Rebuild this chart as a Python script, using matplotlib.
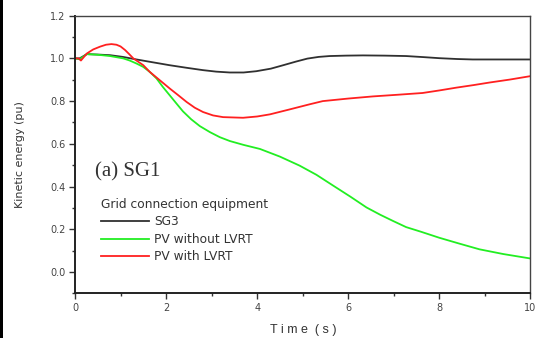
import matplotlib
matplotlib.use("Agg")
import matplotlib.pyplot as plt
from matplotlib.patches import Rectangle
from matplotlib.ticker import MultipleLocator

# Time axis (s) and kinetic energy (pu) of SG1 for each grid connection case
t_sg3 = [0, 0.1, 0.26, 0.5, 0.77, 1.05, 1.35, 1.7, 2.08, 2.45, 2.81, 3.1, 3.4, 3.7,
         3.98, 4.3, 4.57, 4.85, 5.1, 5.35, 5.59, 5.95, 6.32, 6.8, 7.27, 7.65, 8.0,
         8.4, 8.73, 9.3, 10.0]
ke_sg3 = [1.0, 1.0, 1.02, 1.018, 1.015, 1.007, 0.995, 0.982, 0.968, 0.956, 0.945,
          0.938, 0.934, 0.934, 0.94, 0.952, 0.968, 0.985, 0.999, 1.007, 1.011, 1.013,
          1.014, 1.013, 1.011, 1.006, 1.001, 0.997, 0.995, 0.995, 0.995]

t_pv_no = [0, 0.1, 0.26, 0.5, 0.77, 1.06, 1.2, 1.35, 1.5, 1.64, 1.79, 1.93, 2.08,
           2.23, 2.37, 2.55, 2.74, 2.96, 3.18, 3.4, 3.7, 4.06, 4.5, 4.93, 5.3, 5.67,
           6.05, 6.4, 6.7, 6.98, 7.27, 7.6, 8.0, 8.45, 8.88, 9.4, 10.0]
ke_pv_no = [1.0, 0.996, 1.02, 1.017, 1.011, 1.0, 0.99, 0.976, 0.96, 0.937, 0.906,
            0.866, 0.827, 0.788, 0.752, 0.715, 0.683, 0.655, 0.631, 0.613, 0.595,
            0.576, 0.54, 0.498, 0.455, 0.404, 0.352, 0.302, 0.268, 0.239, 0.21,
            0.188, 0.16, 0.132, 0.106, 0.084, 0.063]

t_pv_lvrt = [0, 0.08, 0.13, 0.26, 0.4, 0.55, 0.68, 0.8, 0.91, 1.0, 1.1, 1.19, 1.28,
             1.5, 1.64, 1.86, 2.08, 2.27, 2.45, 2.63, 2.81, 3.03, 3.25, 3.69, 4.0,
             4.28, 4.71, 5.15, 5.44, 6.0, 6.54, 7.1, 7.63, 8.0, 8.37, 8.75, 9.1,
             9.55, 10.0]
ke_pv_lvrt = [1.0, 1.0, 0.99, 1.023, 1.042, 1.055, 1.064, 1.067, 1.064, 1.056, 1.039,
              1.02, 1.0, 0.968, 0.937, 0.898, 0.859, 0.827, 0.796, 0.769, 0.749,
              0.733, 0.725, 0.722, 0.728, 0.738, 0.761, 0.785, 0.80, 0.812, 0.822,
              0.83, 0.838, 0.85, 0.863, 0.875, 0.887, 0.901, 0.917]

series_labels = ["SG3", "PV without LVRT", "PV with LVRT"]
series_colors = ["#303030", "#22ee22", "#ff2020"]

x_ticks = [0, 2, 4, 6, 8, 10]
y_ticks = [0.0, 0.2, 0.4, 0.6, 0.8, 1.0, 1.2]
y_tick_labels = ["0.0", "0.2", "0.4", "0.6", "0.8", "1.0", "1.2"]

fig = plt.figure(figsize=(5.4, 3.38), dpi=100)
ax = fig.add_axes([0.1389, 0.1322, 0.8435, 0.8214])

for t, ke, lab, col in zip([t_sg3, t_pv_no, t_pv_lvrt],
                           [ke_sg3, ke_pv_no, ke_pv_lvrt],
                           series_labels, series_colors):
    ax.plot(t, ke, color=col, lw=1.3, label=lab, solid_joinstyle="round")

ax.set_xlim(0, 10)
ax.set_ylim(-0.1, 1.2)
ax.set_xticks(x_ticks)
ax.set_xticklabels([str(v) for v in x_ticks])
ax.set_yticks(y_ticks)
ax.set_yticklabels(y_tick_labels)
ax.xaxis.set_minor_locator(MultipleLocator(1))
ax.yaxis.set_minor_locator(MultipleLocator(0.1))

ax.tick_params(axis="both", which="major", direction="out", length=4, width=1,
               labelsize=7, colors="#333333", pad=3, labelcolor="#444444")
ax.tick_params(axis="both", which="minor", direction="out", length=2.5, width=1,
               colors="#333333")
ax.tick_params(top=False, right=False, which="both")

for side in ["left", "bottom"]:
    ax.spines[side].set_linewidth(1.4)
    ax.spines[side].set_color("#222222")
for side in ["top", "right"]:
    ax.spines[side].set_linewidth(1.0)
    ax.spines[side].set_color("#444444")

ax.set_xlabel("T i m e  ( s )", fontsize=9, color="#333333", labelpad=8,
              family="Liberation Sans")
ax.set_ylabel("Kinetic energy (pu)", fontsize=8, color="#333333", labelpad=18,
              family="DejaVu Sans")

ax.text(0.044, 0.437, "(a) SG1", transform=ax.transAxes, fontsize=15,
        family="Liberation Serif", color="#333333", va="center")

leg = ax.legend(loc="upper left", bbox_to_anchor=(0.057, 0.345), frameon=False,
                title="Grid connection equipment",
                handlelength=3.9, handletextpad=0.45, labelspacing=0.38,
                borderaxespad=0, borderpad=0,
                prop={"family": "DejaVu Sans", "size": 8.8})
leg.get_title().set_fontsize(8.8)
leg.get_title().set_family("DejaVu Sans")
leg.get_title().set_color("#333333")
leg._legend_box.align = "left"
for txt in leg.get_texts():
    txt.set_color("#333333")

# dark strip along the left edge of the figure
fig.patches.append(Rectangle((0, 0), 3 / 540, 1, transform=fig.transFigure,
                             facecolor="black", edgecolor="none"))

fig.savefig("out.png", dpi=100)
